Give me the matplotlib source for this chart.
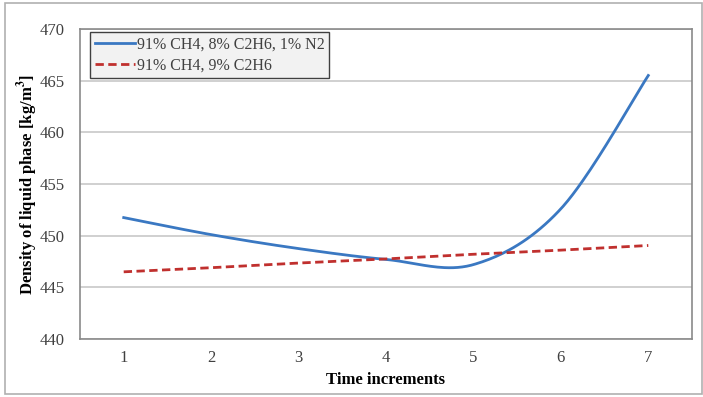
import numpy
import matplotlib
matplotlib.use('Agg')
import matplotlib.pyplot as plot
from matplotlib.patches import Rectangle

plot.rcParams['font.family'] = ['Liberation Serif', 'DejaVu Serif']
plot.rcParams['mathtext.fontset'] = 'stix'

# Data
time_steps = [1, 2, 3, 4, 5, 6, 7]
density_n2 = [451.75, 450.1, 448.75, 447.7, 447.2, 452.6, 465.5]
density_c2h6 = [446.5, 446.9, 447.35, 447.75, 448.2, 448.6, 449.05]
label_n2 = '91% CH4, 8% C2H6, 1% N2'
label_c2h6 = '91% CH4, 9% C2H6'
yticks = [440, 445, 450, 455, 460, 465, 470]

##########################################################################################

def smoothLine(x, y, n=40):
    # Excel style smoothed line: cubic Bezier with control points from neighbours
    x = numpy.asarray(x, dtype=float)
    y = numpy.asarray(y, dtype=float)
    px = numpy.concatenate([[x[0]], x, [x[-1]]])
    py = numpy.concatenate([[y[0]], y, [y[-1]]])
    xs, ys = [], []
    t = numpy.linspace(0, 1, n)
    for i in range(len(x) - 1):
        p0 = numpy.array([x[i], y[i]])
        p3 = numpy.array([x[i+1], y[i+1]])
        p1 = p0 + (numpy.array([px[i+2], py[i+2]]) - numpy.array([px[i], py[i]])) / 6.0
        p2 = p3 - (numpy.array([px[i+3], py[i+3]]) - numpy.array([px[i+1], py[i+1]])) / 6.0
        b = ((1-t)**3)[:, None]*p0 + (3*(1-t)**2*t)[:, None]*p1 + (3*(1-t)*t**2)[:, None]*p2 + (t**3)[:, None]*p3
        xs.extend(b[:, 0])
        ys.extend(b[:, 1])
    return numpy.array(xs), numpy.array(ys)

##########################################################################################

f = plot.figure(figsize=[7.03, 3.97], dpi=100)
ax = f.add_axes([80/703., 58/397., 612/703., 310/397.])

# Outer chart border
f.patches.append(Rectangle((5/703., 3/397.), 697/703., 391/397., transform=f.transFigure,
                           fill=False, edgecolor='#b0b0b0', linewidth=1.2))

sx, sy = smoothLine(time_steps, density_n2)
ax.plot(sx, sy, color='#3a78c2', linewidth=2, label=label_n2)
ax.plot(time_steps, density_c2h6, color='#c0302e', linewidth=2, linestyle=(0, (3, 1.6)), label=label_c2h6)

ax.set_xlim(0.5, 7.5)
ax.set_ylim(440, 470)
ax.set_xticks(time_steps)
ax.set_yticks(yticks)
ax.yaxis.grid(True, color='#c8c8c8', linewidth=1.2)
ax.set_axisbelow(True)
ax.tick_params(axis='both', length=0, labelsize=12, labelcolor='#404040')
ax.tick_params(axis='x', pad=8)
ax.tick_params(axis='y', pad=11)

for side in ['left', 'bottom', 'top', 'right']:
    ax.spines[side].set_color('#8a8a8a')
    ax.spines[side].set_linewidth(1.2)

ax.set_xlabel('Time increments', fontsize=12, fontweight='bold', labelpad=4)
ax.set_ylabel(r'Density of liquid phase [kg/m$^\mathbf{3}$]', fontsize=12, fontweight='bold')
ax.yaxis.set_label_coords(-0.066, 0.5)

leg = ax.legend(loc='upper left', bbox_to_anchor=(0.016, 0.99), fontsize=11.5, frameon=True,
                fancybox=False, handlelength=2.5, handletextpad=0.15, borderpad=0.3, labelspacing=0.3,
                borderaxespad=0)
leg.get_frame().set_facecolor('#f2f2f2')
leg.get_frame().set_edgecolor('#404040')
leg.get_frame().set_linewidth(1.0)
leg.get_frame().set_alpha(1)
for t in leg.get_texts():
    t.set_color('#404040')

plot.savefig('out.png', dpi=100)
plot.close()
